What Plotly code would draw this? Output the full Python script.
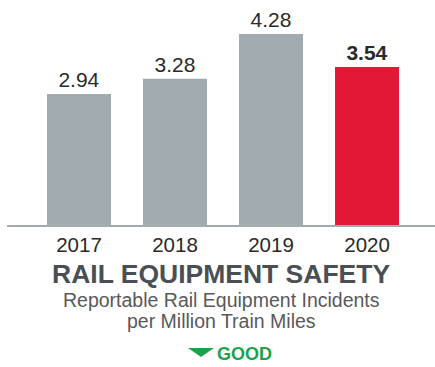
import plotly.graph_objects as go

years = ["2017", "2018", "2019", "2020"]
values = [2.94, 3.28, 4.28, 3.54]
labels = ["2.94", "3.28", "4.28", "<b>3.54</b>"]
colors = ["#a2abb0", "#a2abb0", "#a2abb0", "#e31837"]

title = "<b>RAIL EQUIPMENT SAFETY</b>"
subtitle_lines = ["Reportable Rail Equipment Incidents", "per Million Train Miles"]
good = "GOOD"

FONT = "Liberation Sans, Arial, sans-serif"

fig = go.Figure(go.Bar(
    x=years, y=values, marker_color=colors, marker_line_width=0,
    text=labels, textposition="outside",
    textfont=dict(size=21, color="#2a2a2a", family=FONT),
    cliponaxis=False, hoverinfo="skip",
))

annotations = [
    dict(text=title, x=0.5, xref="paper", y=0, yref="paper",
         xanchor="center", yanchor="top", yshift=-32, showarrow=False,
         font=dict(size=26.5, color="#4a4f55")),
]
for i, line in enumerate(subtitle_lines):
    annotations.append(dict(text=line, x=0.5, xref="paper", y=0, yref="paper",
                            xanchor="center", yanchor="top", yshift=-63 - 21 * i,
                            showarrow=False, borderpad=0,
                            font=dict(size=19.5, color="#58595b")))
annotations.append(dict(text=good, x=0.487, xref="paper", y=0, yref="paper",
                        xanchor="left", yanchor="top", yshift=-117, showarrow=False,
                        font=dict(size=18, color="#1aa34a",
                                  family="Liberation Sans Narrow, Liberation Sans, sans-serif",
                                  weight="bold")))

fig.update_layout(
    width=435, height=367,
    margin=dict(l=7, r=0, t=0, b=142, autoexpand=False),
    paper_bgcolor="white", plot_bgcolor="white",
    bargap=1/3, showlegend=False,
    font=dict(family=FONT),
    xaxis=dict(range=[-0.75, 3.708], showline=True, linecolor="#a2abb0", linewidth=2,
               tickfont=dict(size=20.5, color="#2a2a2a"), ticks="", showgrid=False,
               automargin=False, fixedrange=True),
    yaxis=dict(range=[0, 5.045], visible=False, showgrid=False, fixedrange=True),
    annotations=annotations,
    shapes=[
        dict(type="path", xref="paper", yref="paper",
             path="M 0.4229 -0.5467 L 0.4836 -0.5467 L 0.4533 -0.5867 Z",
             fillcolor="#1aa34a", line=dict(width=0)),
    ],
)
fig.write_html("out.html", config={"displayModeBar": False},
               post_script="document.body.style.margin='0';document.body.style.overflow='hidden';")
